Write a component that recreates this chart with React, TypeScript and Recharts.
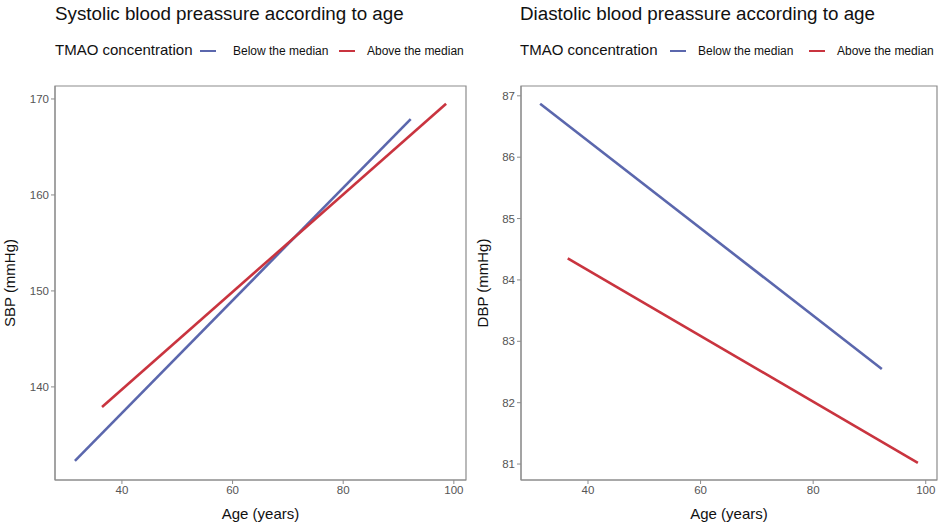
import React from "react";
import {
  LineChart,
  Line,
  XAxis,
  YAxis,
  ReferenceArea,
} from "recharts";

// fitted regression lines: age (years) at the ends of each line
const AGE_BELOW = [31.5, 92.2];
const AGE_ABOVE = [36.4, 98.6];

const SBP_BELOW = [132.3, 167.9];
const SBP_ABOVE = [137.9, 169.5];

const DBP_BELOW = [86.87, 82.55];
const DBP_ABOVE = [84.35, 81.02];

const AGE_TICKS = [40, 60, 80, 100];
const SBP_TICKS = [140, 150, 160, 170];
const DBP_TICKS = [81, 82, 83, 84, 85, 86, 87];

const GROUPS = ["Below the median", "Above the median"];
const GROUP_COLORS = ["#5b67ad", "#c9343f"];

const FONT = "'Liberation Sans', Arial, Helvetica, sans-serif";
const AXIS_GREY = "#8c8c8c";
const TICK_TEXT = "#555555";

type PanelProps = {
  left: number;
  width: number;
  yAxisWidth: number;
  rightMargin: number;
  textLeft: number;
  title: string;
  yLabel: string;
  xDomain: [number, number];
  yDomain: [number, number];
  yTicks: number[];
  below: number[];
  above: number[];
  swatchX: number[];
  labelX: number[];
};

function toPoints(ages: number[], values: number[]) {
  return ages.map((age, i) => ({ age, value: values[i] }));
}

function Panel(p: PanelProps) {
  const series = [toPoints(AGE_BELOW, p.below), toPoints(AGE_ABOVE, p.above)];
  return (
    <div style={{ position: "absolute", left: p.left, top: 0, width: p.width, height: 524 }}>
      <div
        style={{
          position: "absolute",
          left: p.textLeft,
          top: 3,
          fontSize: 18.8,
          color: "#111",
          whiteSpace: "nowrap",
        }}
      >
        {p.title}
      </div>
      <div
        style={{
          position: "absolute",
          left: p.textLeft,
          top: 41,
          fontSize: 15,
          color: "#111",
          whiteSpace: "nowrap",
        }}
      >
        TMAO concentration
      </div>
      {GROUPS.map((g, i) => (
        <React.Fragment key={g}>
          <div
            style={{
              position: "absolute",
              left: p.swatchX[i],
              top: 49.5,
              width: 16,
              height: 2.5,
              background: GROUP_COLORS[i],
            }}
          />
          <div
            style={{
              position: "absolute",
              left: p.labelX[i],
              top: 43.5,
              fontSize: 12,
              color: "#111",
              whiteSpace: "nowrap",
            }}
          >
            {g}
          </div>
        </React.Fragment>
      ))}
      <LineChart
        width={p.width}
        height={524}
        margin={{ top: 86, right: p.rightMargin, bottom: 0, left: 0 }}
        style={{ position: "absolute", left: 0, top: 0 }}
      >
        <XAxis
          type="number"
          dataKey="age"
          domain={p.xDomain}
          ticks={AGE_TICKS}
          allowDataOverflow
          height={44}
          tickSize={4}
          tickMargin={2}
          stroke={AXIS_GREY}
          tick={{ fontSize: 11.5, fill: TICK_TEXT, fontFamily: FONT }}
          label={{
            value: "Age (years)",
            position: "insideBottom",
            offset: 5,
            fontSize: 15,
            fill: "#111",
            fontFamily: FONT,
          }}
        />
        <YAxis
          type="number"
          domain={p.yDomain}
          ticks={p.yTicks}
          allowDataOverflow
          width={p.yAxisWidth}
          tickSize={4}
          tickMargin={2}
          stroke={AXIS_GREY}
          tick={{ fontSize: 11.5, fill: TICK_TEXT, fontFamily: FONT }}
          label={{
            value: p.yLabel,
            angle: -90,
            position: "insideLeft",
            offset: p.left === 0 ? 10 : 13,
            fontSize: 15,
            fill: "#111",
            fontFamily: FONT,
            style: { textAnchor: "middle" },
          }}
        />
        <ReferenceArea
          x1={p.xDomain[0]}
          x2={p.xDomain[1]}
          y1={p.yDomain[0]}
          y2={p.yDomain[1]}
          fill="none"
          stroke={AXIS_GREY}
          strokeWidth={1.2}
        />
        {series.map((data, i) => (
          <Line
            key={GROUPS[i]}
            data={data}
            dataKey="value"
            name={GROUPS[i]}
            stroke={GROUP_COLORS[i]}
            strokeWidth={2.6}
            dot={false}
            isAnimationActive={false}
          />
        ))}
      </LineChart>
    </div>
  );
}

export default function App() {
  return (
    <div
      style={{
        position: "absolute",
        left: 0,
        top: 0,
        width: 943,
        height: 524,
        background: "#fff",
        fontFamily: FONT,
      }}
    >
      <Panel
        left={0}
        width={470}
        yAxisWidth={55}
        rightMargin={4}
        textLeft={55}
        title="Systolic blood preassure according to age"
        yLabel="SBP (mmHg)"
        xDomain={[27.9, 102.2]}
        yDomain={[130.3, 171.35]}
        yTicks={SBP_TICKS}
        below={SBP_BELOW}
        above={SBP_ABOVE}
        swatchX={[200, 339]}
        labelX={[233, 367]}
      />
      <Panel
        left={470}
        width={473}
        yAxisWidth={51}
        rightMargin={6}
        textLeft={50}
        title="Diastolic blood preassure according to age"
        yLabel="DBP (mmHg)"
        xDomain={[28.1, 102]}
        yDomain={[80.74, 87.16]}
        yTicks={DBP_TICKS}
        below={DBP_BELOW}
        above={DBP_ABOVE}
        swatchX={[200, 339]}
        labelX={[228, 367]}
      />
    </div>
  );
}
